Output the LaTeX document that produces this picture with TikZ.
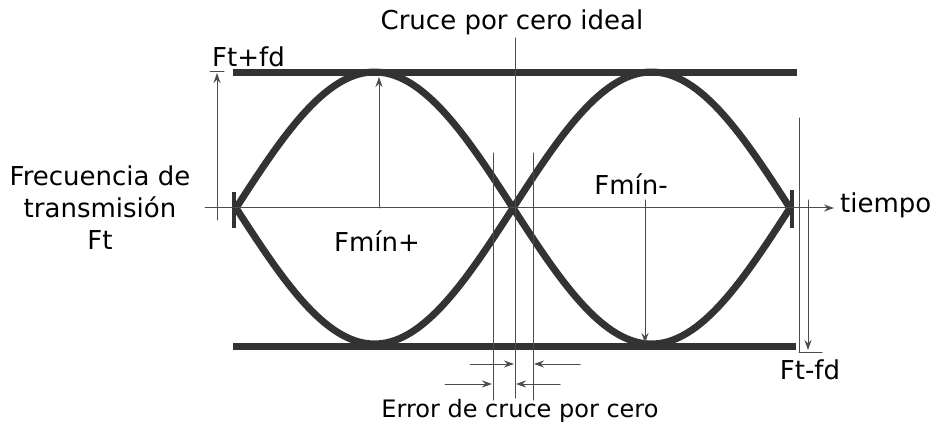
\documentclass[tikz,border=0pt]{standalone}
\usepackage{fontspec}
\setmainfont{DejaVu Sans}
\usetikzlibrary{arrows.meta}
\begin{document}
\begin{tikzpicture}[x=1pt,y=-1pt,font=\fontsize{26}{32}\selectfont,line join=round,line cap=round,>={Stealth[length=10pt,width=7pt]},
	fina/.style={draw=black!70,line width=1pt},
	barra/.style={draw=black!80,line width=7pt,line cap=butt},
	ojo/.style={draw=black!80,line width=7pt}]
	\useasboundingbox (0,0) rectangle (936,430);
	%%%Puntos de referencia
	\def\yc{208}
	\def\amp{136}
	\coordinate (Asup) at (233,73);
	\coordinate (Bsup) at (797,73);
	\coordinate (Ainf) at (233,346);
	\coordinate (Binf) at (796,346);
	\coordinate (Eini) at (205,\yc);
	\coordinate (Efin) at (834,\yc);
	%%%Barras Ft+fd y Ft-fd
	\draw[barra] (Asup)--(Bsup);
	\draw[barra] (Ainf)--(Binf);
	%%%Diagrama de ojo
	\foreach \s in {1,-1}
	\draw[ojo] plot[domain=237:789,samples=120] (\x,{\yc-\s*\amp*sin((\x-236)/277*180)});
	\draw[ojo,line width=4.5pt,line cap=butt] (234,192)--(234,228) (792,190)--(792,228);
	%%%Eje de tiempo
	\draw[fina,->] (Eini)--(Efin);
	\node[anchor=west,inner sep=2pt] (tiempo) at (838,205) {tiempo};
	%%%Textos
	\node[align=center] (frec) at (100,208) {Frecuencia de\\transmisión\\Ft};
	\node (ideal) at (512,22) {Cruce por cero ideal};
	\node[font=\fontsize{24}{30}\selectfont] (error) at (520,411) {Error de cruce por cero};
	\node[anchor=west,inner sep=2pt] (ftmas) at (210,57) {Ft+fd};
	\node (ftmenos) at (810,370) {Ft-fd};
	\node (fminmas) at (377,241) {Fmín+};
	\node (fminmenos) at (631,184) {Fmín-};
	%%%Cotas verticales
	\coordinate (p1) at (217,220);
	\coordinate (p2) at (217,73);
	\draw[fina,->] (p1)--(p2);
	\draw[fina] (210,72)--(224,72);
	\coordinate (q1) at (379,208);
	\coordinate (q2) at (379,77);
	\draw[fina,->] (q1)--(q2);
	\coordinate (r1) at (645,200);
	\coordinate (r2) at (645,343);
	\draw[fina,->] (r1)--(r2);
	\draw[fina] (799,118)--(799,352);
	\coordinate (s1) at (808,200);
	\coordinate (s2) at (808,350);
	\draw[fina,->] (s1)--(s2);
	\draw[fina] (799,352)--(822,352);
	%%%Cruce por cero
	\draw[fina] (515,38)--(515,398);
	\draw[fina] (493,153)--(493,400) (533,153)--(533,400);
	\coordinate (e1) at (470,364);
	\coordinate (e2) at (514,364);
	\coordinate (e3) at (580,364);
	\coordinate (e4) at (534,364);
	\coordinate (e5) at (445,384);
	\coordinate (e6) at (492,384);
	\coordinate (e7) at (560,384);
	\coordinate (e8) at (516,384);
	\draw[fina,->] (e1)--(e2);
	\draw[fina,->] (e3)--(e4);
	\draw[fina,->] (e5)--(e6);
	\draw[fina,->] (e7)--(e8);
\end{tikzpicture}
\end{document}
